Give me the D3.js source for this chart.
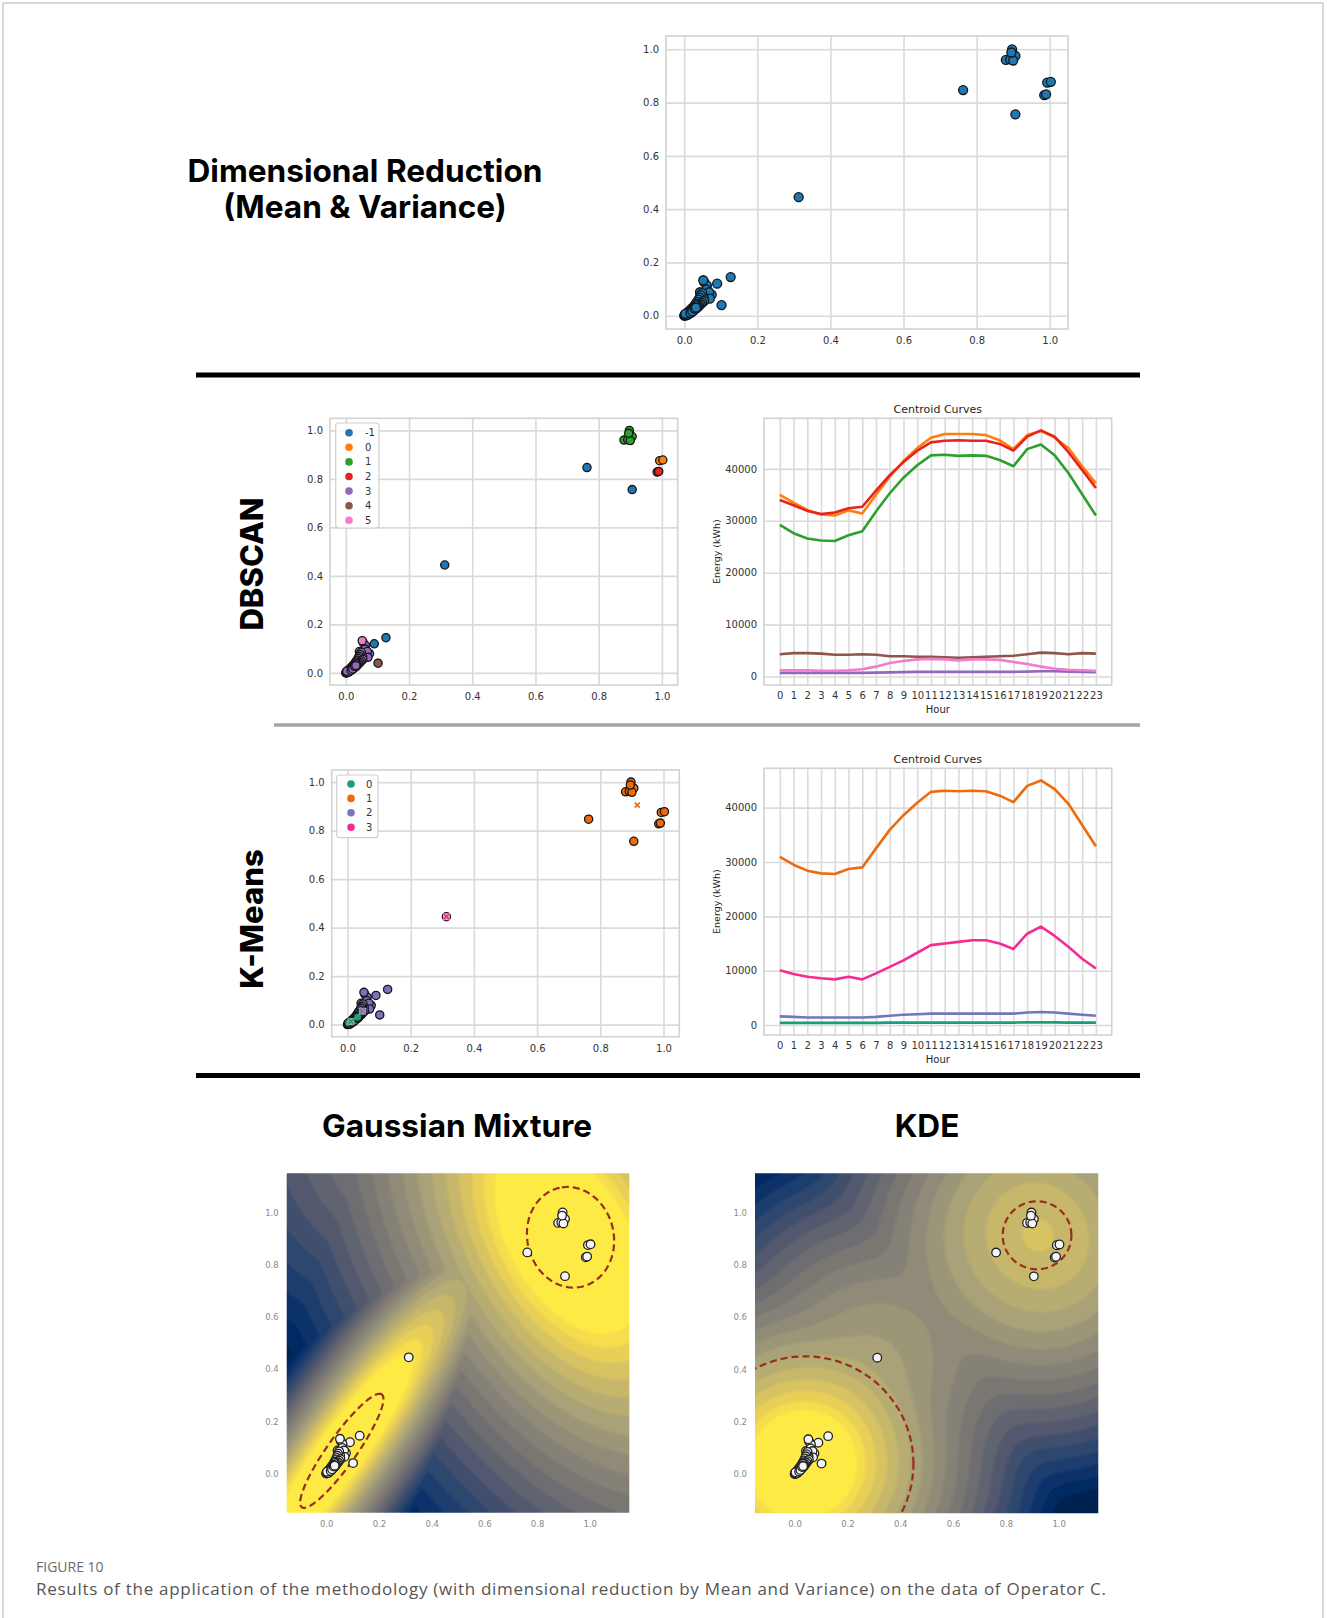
<!DOCTYPE html>
<html>
<head>
<meta charset="utf-8">
<script src="https://cdn.jsdelivr.net/npm/d3@7"></script>
<style>
  body { margin: 0; background: #fff; }
  svg { display: block; }
</style>
</head>
<body>
<svg id="fig" width="1327" height="1618"></svg>
<script>
// ---------- data ----------
// reduced features (mean, variance) per series: [x, y, DBSCAN label, K-Means label]
const points = [
  [0.897, 1.000, 1, 1], [0.880, 0.960, 1, 1], [0.892, 0.962, 1, 1], [0.906, 0.975, 1, 1],
  [0.900, 0.958, 1, 1], [0.895, 0.988, 1, 1],
  [0.763, 0.847, -1, 1], [0.993, 0.875, 0, 1], [1.003, 0.878, 0, 1],
  [0.985, 0.828, 2, 1], [0.990, 0.831, 2, 1], [0.906, 0.756, -1, 1],
  [0.313, 0.445, -1, 3],
  [0.127, 0.145, -1, 2], [0.090, 0.120, -1, 2], [0.102, 0.040, 4, 2],
  [0.055, 0.125, 3, 2], [0.062, 0.113, 3, 2], [0.043, 0.088, 3, 2], [0.061, 0.098, 3, 2],
  [0.075, 0.079, 3, 2], [0.068, 0.088, 3, 2], [0.058, 0.062, 3, 2], [0.070, 0.064, 3, 2],
  [0.050, 0.072, 3, 2], [0.053, 0.068, 3, 2], [0.046, 0.064, 3, 2], [0.048, 0.058, 3, 2],
  [0.041, 0.057, 3, 2], [0.044, 0.050, 3, 2], [0.038, 0.050, 3, 2], [0.040, 0.044, 3, 2],
  [0.034, 0.044, 3, 2], [0.036, 0.039, 3, 2],
  [0.049, 0.085, 3, 2], [0.045, 0.076, 3, 2], [0.042, 0.068, 3, 2], [0.039, 0.060, 3, 2],
  [0.035, 0.052, 3, 2], [0.032, 0.045, 3, 2], [0.054, 0.055, 3, 2], [0.049, 0.049, 3, 2],
  [0.045, 0.043, 3, 2], [0.041, 0.038, 3, 2], [0.037, 0.033, 3, 2], [0.036, 0.036, 3, 2],
  [0.031, 0.037, 3, 0], [0.033, 0.033, 3, 0], [0.028, 0.032, 3, 0], [0.030, 0.029, 3, 0],
  [0.025, 0.028, 3, 0], [0.027, 0.025, 3, 0], [0.022, 0.024, 3, 0], [0.024, 0.021, 3, 0],
  [0.019, 0.020, 3, 0], [0.021, 0.018, 3, 0], [0.016, 0.017, 3, 0], [0.018, 0.015, 3, 0],
  [0.014, 0.014, 3, 0], [0.015, 0.011, 3, 0], [0.011, 0.012, 3, 0], [0.012, 0.009, 3, 0],
  [0.008, 0.009, 3, 0], [0.010, 0.006, 3, 0], [0.005, 0.006, 3, 0], [0.007, 0.004, 3, 0],
  [0.003, 0.003, 3, 0], [0.001, 0.001, 3, 0], [0.000, 0.000, 3, 0], [0.004, 0.001, 3, 0],
  [0.002, 0.005, 3, 0], [0.013, 0.008, 3, 0], [0.020, 0.013, 3, 0], [0.026, 0.020, 3, 0],
  [0.009, 0.003, 3, 0], [0.029, 0.040, 3, 0], [0.026, 0.034, 3, 0], [0.023, 0.030, 3, 0],
  [0.020, 0.026, 3, 0], [0.017, 0.022, 3, 0], [0.015, 0.019, 3, 0], [0.012, 0.015, 3, 0],
  [0.009, 0.011, 3, 0], [0.006, 0.008, 3, 0], [0.008, 0.005, 3, 0], [0.011, 0.007, 3, 0],
  [0.016, 0.012, 3, 0], [0.019, 0.015, 3, 0], [0.023, 0.018, 3, 0], [0.027, 0.022, 3, 0],
  [0.030, 0.025, 3, 0], [0.034, 0.028, 3, 0], [0.002, 0.002, 3, 0], [0.006, 0.002, 3, 0],
  [0.003, 0.007, 3, 0], [0.017, 0.010, 3, 0], [0.022, 0.016, 3, 0], [0.028, 0.027, 3, 0],
  [0.032, 0.030, 3, 0],
  [0.052, 0.133, 5, 2]
];

const unitTicks = [0.0, 0.2, 0.4, 0.6, 0.8, 1.0];
const hours = [0,1,2,3,4,5,6,7,8,9,10,11,12,13,14,15,16,17,18,19,20,21,22,23];
const energyTicks = [0, 10000, 20000, 30000, 40000];

// DBSCAN cluster legend / colours
const dbLabels = [-1, 0, 1, 2, 3, 4, 5];
const dbColors = ['#1f77b4', '#ff7f0e', '#2ca02c', '#e8231f', '#9467bd', '#8c564b', '#f27ccf'];

// DBSCAN centroid curves (kWh per hour)
const dbCurve0 = [35000,33500,32100,31200,31000,32000,31400,35000,38500,41500,44000,46000,46700,46700,46700,46500,45500,43800,46500,47300,46000,44000,40500,37200];
const dbCurve1 = [29200,27600,26600,26200,26100,27200,28000,31800,35300,38300,40700,42600,42700,42500,42600,42500,41700,40500,43800,44700,42600,39200,35100,31000];
const dbCurve2 = [34000,33000,31900,31300,31600,32400,32700,35800,38800,41300,43500,45100,45400,45500,45400,45400,44800,43500,46200,47400,46200,43200,39800,36300];
const dbCurve3 = [700,700,700,700,700,700,700,750,800,850,900,900,900,900,900,900,900,900,950,1000,1000,950,900,850];
const dbCurve4 = [4300,4500,4500,4400,4200,4200,4300,4200,3900,3900,3800,3800,3700,3600,3700,3800,3900,4000,4300,4600,4500,4300,4500,4400];
const dbCurve5 = [1200,1200,1200,1100,1100,1200,1400,1900,2600,3000,3300,3400,3300,3100,3300,3300,3200,2800,2400,1900,1500,1300,1200,1100];

// K-Means legend / colours
const kmLabels = [0, 1, 2, 3];
const kmColors = ['#1b9e77', '#ee6a0c', '#7a72bf', '#f52b92'];
const kmCentroids = [[0.011, 0.013], [0.917, 0.905], [0.047, 0.055], [0.313, 0.445]];

// K-Means centroid curves (kWh per hour)
const kmCurve0 = [400,400,400,400,400,400,400,400,450,450,450,450,450,450,450,450,450,450,500,500,500,450,450,450];
const kmCurve1 = [30950,29500,28400,27900,27800,28700,29000,32500,35900,38600,40900,42900,43100,43000,43100,43000,42200,41000,44000,45000,43400,40700,36800,32900];
const kmCurve2 = [1600,1500,1400,1400,1400,1400,1400,1500,1700,1900,2000,2100,2100,2100,2100,2100,2100,2100,2300,2400,2300,2100,1900,1700];
const kmCurve3 = [10100,9400,8900,8600,8400,8900,8400,9500,10700,11900,13300,14700,15000,15300,15600,15600,15000,14000,16800,18100,16400,14400,12200,10400];

// Gaussian mixture components: means, spreads (major, minor sd), orientation (deg)
const gmmMeans = [[0.92, 0.90], [0.059, 0.087], [0.35, 1.30]];
const gmmSpreads = [[0.30, 0.17], [0.20, 0.04], [0.10, 0.10]];
const gmmAngles = [120, 55, 0];
// colour ramp per component: [distance of full yellow, distance of full blue, exponent]
const gmmRamps = [[1.2, 7.0, 0.8], [2.0, 9.5, 0.9], [-6.33, 10.33, 1.0]];
// dashed component outlines: [cx, cy, semi-major, semi-minor, angle]
const gmmOutlines = [[0.927, 0.905, 0.194, 0.164, 102.4], [0.059, 0.087, 0.264, 0.055, 55]];

// KDE settings and dashed rings: [cx, cy, r]
const kdeBandwidth = 0.15;
const kdeRamp = [-1.0, 20, 0.6];
const kdeRings = [[0.04, 0.04, 0.41], [0.918, 0.913, 0.13]];

// ---------- drawing ----------
const svg = d3.select('#fig');
const tickFont = '"DejaVu Sans", sans-serif';
const titleFont = 'Inter, "Liberation Sans", sans-serif';
const gridColor = '#dadada';

svg.append('defs').append('filter').attr('id', 'soft')
  .append('feGaussianBlur').attr('stdDeviation', 0.9);

// outer frame of the figure
svg.append('rect').attr('x', 3).attr('y', 3).attr('width', 1320).attr('height', 1660)
  .attr('fill', 'none').attr('stroke', '#cccccc').attr('stroke-width', 1.5);

// section headings
function heading(x, y, text, size, weight) {
  return svg.append('text').attr('x', x).attr('y', y).attr('text-anchor', 'middle')
    .style('font-family', titleFont).style('font-weight', weight || 700)
    .style('font-size', size + 'px').attr('fill', '#000').text(text);
}
heading(365, 181.5, 'Dimensional Reduction', 31.6);
heading(365, 218, '(Mean & Variance)', 31.6);
heading(457, 1137, 'Gaussian Mixture', 31.6);
heading(927, 1137, 'KDE', 31.6);
function sideHeading(cx, cy, text) {
  svg.append('text').attr('transform', `translate(${cx},${cy}) rotate(-90)`)
    .attr('text-anchor', 'middle').attr('dominant-baseline', 'central')
    .style('font-family', titleFont).style('font-weight', 800).style('font-size', '31px')
    .attr('fill', '#000').text(text);
}
sideHeading(251, 564, 'DBSCAN');
sideHeading(251, 919, 'K-Means');

// separators
svg.append('line').attr('x1', 196).attr('x2', 1140).attr('y1', 375).attr('y2', 375)
  .attr('stroke', '#000').attr('stroke-width', 5);
svg.append('line').attr('x1', 274).attr('x2', 1140).attr('y1', 725).attr('y2', 725)
  .attr('stroke', '#a3a3a3').attr('stroke-width', 3.5);
svg.append('line').attr('x1', 196).attr('x2', 1140).attr('y1', 1075.5).attr('y2', 1075.5)
  .attr('stroke', '#000').attr('stroke-width', 5);

function styleAxis(sel, size) {
  sel.select('.domain').remove();
  sel.selectAll('line').attr('stroke', gridColor).attr('stroke-width', 1.6);
  sel.selectAll('text').attr('fill', '#333').style('font-family', tickFont).style('font-size', size + 'px');
}

function frameRect(g, f) {
  g.append('rect').attr('x', f.x0).attr('y', f.y0).attr('width', f.x1 - f.x0).attr('height', f.y1 - f.y0)
    .attr('fill', 'none').attr('stroke', '#d2d2d2').attr('stroke-width', 1.6);
}

function scatterPanel(f, colorOf, r) {
  const x = d3.scaleLinear([-0.05, 1.05], [f.x0, f.x1]);
  const y = d3.scaleLinear([-0.05, 1.05], [f.y1, f.y0]);
  const g = svg.append('g');
  g.append('g').attr('transform', `translate(0,${f.y1})`)
    .call(d3.axisBottom(x).tickValues(unitTicks).tickFormat(d3.format('.1f')).tickSize(-(f.y1 - f.y0)).tickPadding(8))
    .call(s => styleAxis(s, 10));
  g.append('g').attr('transform', `translate(${f.x0},0)`)
    .call(d3.axisLeft(y).tickValues(unitTicks).tickFormat(d3.format('.1f')).tickSize(-(f.x1 - f.x0)).tickPadding(7))
    .call(s => styleAxis(s, 10));
  frameRect(g, f);
  g.append('g').selectAll('circle').data(points).join('circle')
    .attr('cx', d => x(d[0])).attr('cy', d => y(d[1])).attr('r', r)
    .attr('fill', colorOf).attr('stroke', '#151515').attr('stroke-width', 1.3);
  return { g, x, y };
}

function legend(g, box, labels, colors, step) {
  g.append('rect').attr('x', box.x).attr('y', box.y).attr('width', box.w).attr('height', box.h)
    .attr('rx', 3).attr('fill', '#fff').attr('fill-opacity', 0.85).attr('stroke', '#d0d0d0').attr('stroke-width', 1.2);
  const rows = g.append('g').selectAll('g').data(labels).join('g')
    .attr('transform', (d, i) => `translate(${box.mx},${box.ry + i * step})`);
  rows.append('circle').attr('r', 3.8).attr('fill', (d, i) => colors[i]);
  rows.append('text').attr('x', box.tx - box.mx).attr('dy', '0.35em')
    .style('font-family', tickFont).style('font-size', '10px').attr('fill', '#333').text(d => d);
}

// top scatter
scatterPanel({ x0: 666, x1: 1068, y0: 36, y1: 329 }, () => '#1f77b4', 4.5);

// DBSCAN scatter
const dbPanel = scatterPanel({ x0: 330, x1: 677.7, y0: 418.3, y1: 685 },
  d => dbColors[dbLabels.indexOf(d[2])], 4.1);
legend(dbPanel.g, { x: 335.7, y: 423, w: 43.3, h: 105, mx: 349, tx: 365, ry: 432.7 }, dbLabels, dbColors, 14.6);

// K-Means scatter
const kmPanel = scatterPanel({ x0: 331.7, x1: 679.3, y0: 770, y1: 1036.7 },
  d => kmColors[d[3]], 4.1);
const cen = kmPanel.g.append('g').selectAll('g').data(kmCentroids).join('g')
  .attr('transform', d => `translate(${kmPanel.x(d[0])},${kmPanel.y(d[1])})`);
cen.append('rect').attr('x', -3.5).attr('y', -3.5).attr('width', 7).attr('height', 7)
  .attr('fill', '#fff').attr('fill-opacity', 0.55);
cen.append('path').attr('d', 'M-2.5,-2.5L2.5,2.5M-2.5,2.5L2.5,-2.5')
  .attr('stroke', (d, i) => kmColors[i]).attr('stroke-width', 1.6);
legend(kmPanel.g, { x: 336.7, y: 775, w: 41.3, h: 62.7, mx: 351, tx: 366, ry: 784 }, kmLabels, kmColors, 14.4);

// centroid curve panels
function curvePanel(f, series, colors) {
  const all = series.flat();
  const lo = d3.min(all), hi = d3.max(all), pad = (hi - lo) * 0.05;
  const x = d3.scaleLinear([-1.15, 24.15], [f.x0, f.x1]);
  const y = d3.scaleLinear([lo - pad, hi + pad], [f.y1, f.y0]);
  const g = svg.append('g');
  g.append('g').attr('transform', `translate(0,${f.y1})`)
    .call(d3.axisBottom(x).tickValues(hours).tickFormat(d3.format('d')).tickSize(-(f.y1 - f.y0)).tickPadding(7))
    .call(s => styleAxis(s, 10));
  g.append('g').attr('transform', `translate(${f.x0},0)`)
    .call(d3.axisLeft(y).tickValues(energyTicks).tickFormat(d3.format('d')).tickSize(-(f.x1 - f.x0)).tickPadding(7))
    .call(s => styleAxis(s, 10));
  const line = d3.line().x((d, i) => x(hours[i])).y(d => y(d));
  g.append('g').selectAll('path').data(series).join('path')
    .attr('d', line).attr('fill', 'none').attr('stroke', (d, i) => colors[i])
    .attr('stroke-width', 2.6).attr('stroke-linejoin', 'round');
  frameRect(g, f);
  const cx = (f.x0 + f.x1) / 2;
  g.append('text').attr('x', cx).attr('y', f.y0 - 9).attr('dy', '0.35em').attr('text-anchor', 'middle')
    .style('font-family', tickFont).style('font-size', '11px').attr('fill', '#262626').text('Centroid Curves');
  g.append('text').attr('x', cx).attr('y', f.y1 + 24).attr('dy', '0.35em').attr('text-anchor', 'middle')
    .style('font-family', tickFont).style('font-size', '10px').attr('fill', '#262626').text('Hour');
  g.append('text').attr('transform', `translate(${f.x0 - 47},${(f.y0 + f.y1) / 2}) rotate(-90)`)
    .attr('text-anchor', 'middle').attr('dy', '0.35em')
    .style('font-family', tickFont).style('font-size', '9.5px').attr('fill', '#262626').text('Energy (kWh)');
}
curvePanel({ x0: 764, x1: 1111.7, y0: 418.3, y1: 685 },
  [dbCurve0, dbCurve1, dbCurve2, dbCurve3, dbCurve4, dbCurve5],
  [dbColors[1], dbColors[2], dbColors[3], dbColors[4], dbColors[5], dbColors[6]]);
curvePanel({ x0: 764, x1: 1111.7, y0: 768.3, y1: 1035 },
  [kmCurve0, kmCurve1, kmCurve2, kmCurve3], kmColors);

// ---------- density panels ----------
function ramp(lo, hi, gamma) {
  return v => 1 - Math.pow(Math.max(0, Math.min(1, (v - lo) / (hi - lo))), gamma);
}
const gmmRampFns = gmmRamps.map(r => ramp(r[0], r[1], r[2]));
// brightness from the closest component (Mahalanobis distance)
function gmmField(px, py) {
  return d3.max(gmmMeans, (m, k) => {
    const [sa, sb] = gmmSpreads[k], a = gmmAngles[k] * Math.PI / 180;
    const dx = px - m[0], dy = py - m[1];
    const u = dx * Math.cos(a) + dy * Math.sin(a), v = -dx * Math.sin(a) + dy * Math.cos(a);
    return gmmRampFns[k](Math.sqrt(u * u / (sa * sa) + v * v / (sb * sb)));
  });
}
const kdeRampFn = ramp(kdeRamp[0], kdeRamp[1], kdeRamp[2]);
// brightness from the negative log of a gaussian kernel density
function kdeField(px, py) {
  const h2 = kdeBandwidth * kdeBandwidth;
  const terms = points.map(p => -((px - p[0]) ** 2 + (py - p[1]) ** 2) / (2 * h2));
  const m = d3.max(terms);
  const nll = -(m + Math.log(d3.sum(terms, t => Math.exp(t - m))) - Math.log(points.length * 2 * Math.PI * h2));
  return kdeRampFn(nll);
}

let clipCount = 0;
function densityPanel(f, field) {
  const dom = [-0.15, 1.15];
  const x = d3.scaleLinear(dom, [f.x0, f.x1]);
  const y = d3.scaleLinear(dom, [f.y1, f.y0]);
  const ext = [-0.19, 1.19], n = 160, step = (ext[1] - ext[0]) / n;
  const vals = new Float64Array(n * n);
  for (let j = 0; j < n; j++) for (let i = 0; i < n; i++) {
    vals[j * n + i] = field(ext[0] + (i + 0.5) * step, ext[1] - (j + 0.5) * step);
  }
  const nLev = 20;
  const levels = d3.range(nLev).map(k => k / nLev);
  const bands = d3.contours().size([n, n]).thresholds(levels)(vals);
  const path = d3.geoPath(d3.geoTransform({
    point(px, py) { this.stream.point(x(ext[0] + px * step), y(ext[1] - py * step)); }
  }));
  const id = 'clip' + (clipCount++);
  svg.select('defs').append('clipPath').attr('id', id)
    .append('rect').attr('x', f.x0).attr('y', f.y0).attr('width', f.x1 - f.x0).attr('height', f.y1 - f.y0);
  const g = svg.append('g');
  const layer = g.append('g').attr('clip-path', `url(#${id})`).append('g').attr('filter', 'url(#soft)');
  layer.append('rect').attr('x', f.x0 - 10).attr('y', f.y0 - 10).attr('width', f.x1 - f.x0 + 20).attr('height', f.y1 - f.y0 + 20)
    .attr('fill', d3.interpolateCividis(0));
  layer.selectAll('path').data(bands).join('path').attr('d', path)
    .attr('fill', d => d3.interpolateCividis(d.value / (1 - 1 / nLev)));
  // tick labels only
  const ax = g.append('g').attr('transform', `translate(0,${f.y1})`)
    .call(d3.axisBottom(x).tickValues(unitTicks).tickFormat(d3.format('.1f')).tickSize(0).tickPadding(8));
  const ay = g.append('g').attr('transform', `translate(${f.x0},0)`)
    .call(d3.axisLeft(y).tickValues(unitTicks).tickFormat(d3.format('.1f')).tickSize(0).tickPadding(8));
  [ax, ay].forEach(a => {
    a.select('.domain').remove();
    a.selectAll('text').attr('fill', '#8a8a8a').style('font-family', tickFont).style('font-size', '8.5px');
  });
  return { g, x, y, clip: id };
}

function whitePoints(p) {
  p.g.append('g').attr('clip-path', `url(#${p.clip})`).selectAll('circle').data(points).join('circle')
    .attr('cx', d => p.x(d[0])).attr('cy', d => p.y(d[1])).attr('r', 4.3)
    .attr('fill', '#f6f5fb').attr('stroke', '#222').attr('stroke-width', 1.3);
}
function dashed(p, pts) {
  p.g.append('path').attr('clip-path', `url(#${p.clip})`)
    .attr('d', d3.line().x(d => p.x(d[0])).y(d => p.y(d[1])).curve(d3.curveLinearClosed)(pts))
    .attr('fill', 'none').attr('stroke', '#9a2c1f').attr('stroke-width', 2.2).attr('stroke-dasharray', '7,4');
}
function ellipsePts(cx, cy, a, b, angDeg) {
  const t = angDeg * Math.PI / 180;
  return d3.range(0, 2 * Math.PI, Math.PI / 90).map(s => [
    cx + a * Math.cos(s) * Math.cos(t) - b * Math.sin(s) * Math.sin(t),
    cy + a * Math.cos(s) * Math.sin(t) + b * Math.sin(s) * Math.cos(t)
  ]);
}

const gmmPanel = densityPanel({ x0: 286.7, x1: 629.3, y0: 1173.3, y1: 1512.7 }, gmmField);
gmmOutlines.forEach(e => dashed(gmmPanel, ellipsePts(e[0], e[1], e[2], e[3], e[4])));
whitePoints(gmmPanel);

const kdePanel = densityPanel({ x0: 755, x1: 1098.3, y0: 1173.3, y1: 1513.3 }, kdeField);
kdeRings.forEach(c => dashed(kdePanel, ellipsePts(c[0], c[1], c[2], c[2], 0)));
whitePoints(kdePanel);

// caption
svg.append('text').attr('x', 36).attr('y', 1572).style('font-family', '"Open Sans", sans-serif')
  .style('font-size', '14px').attr('fill', '#6a6a6a').text('FIGURE 10');
svg.append('text').attr('x', 36).attr('y', 1595).style('font-family', '"Open Sans", sans-serif')
  .style('font-size', '17px').attr('fill', '#555').attr('textLength', 1070).attr('lengthAdjust', 'spacing')
  .text('Results of the application of the methodology (with dimensional reduction by Mean and Variance) on the data of Operator C.');
</script>
</body>
</html>
